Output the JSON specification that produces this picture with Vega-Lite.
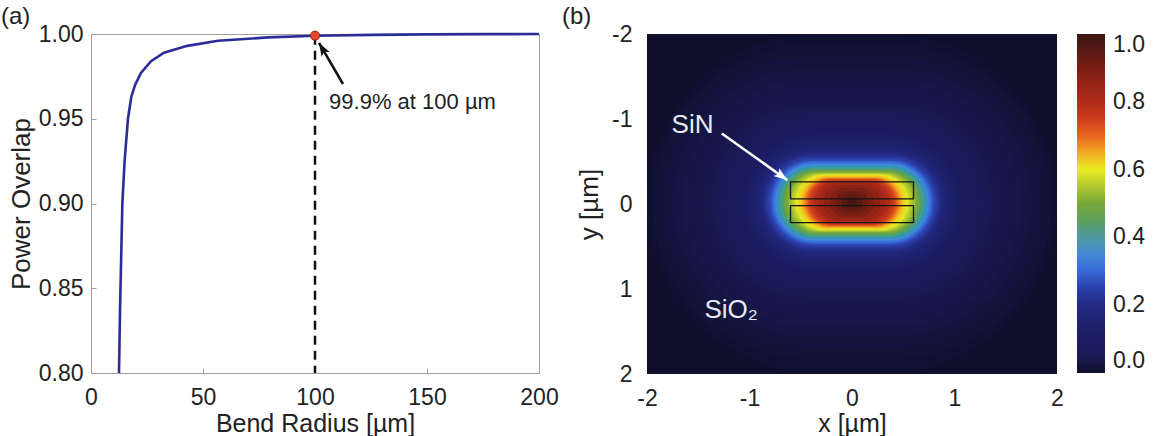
{
  "$schema": "https://vega.github.io/schema/vega-lite/v6.json",
  "background": "white",
  "padding": {"left": 0, "top": 4, "right": 0, "bottom": 0},
  "spacing": 3,
  "config": {
    "font": "Liberation Sans",
    "axis": {"labelFont": "Liberation Sans", "titleFont": "Liberation Sans", "labelColor": "#222", "titleColor": "#222", "grid": false, "titleFontWeight": "normal"},
    "title": {"font": "Liberation Sans", "fontWeight": "normal", "color": "#222", "fontSize": 24, "anchor": "start", "frame": "group"}
  },
  "datasets": {
    "overlap": [
      {"r": 12.5, "p": 0.8},
      {"r": 13.0, "p": 0.84},
      {"r": 13.5, "p": 0.87},
      {"r": 14.0, "p": 0.9},
      {"r": 15.0, "p": 0.925},
      {"r": 16.5, "p": 0.95},
      {"r": 18.0, "p": 0.963},
      {"r": 19.7, "p": 0.97},
      {"r": 22.3, "p": 0.977},
      {"r": 26.8, "p": 0.984},
      {"r": 32.6, "p": 0.989},
      {"r": 43.0, "p": 0.993},
      {"r": 56.7, "p": 0.996},
      {"r": 79.0, "p": 0.998},
      {"r": 100.0, "p": 0.999},
      {"r": 125.0, "p": 0.9995},
      {"r": 150.0, "p": 0.9998},
      {"r": 175.0, "p": 0.9999},
      {"r": 200.0, "p": 1.0}
    ],
    "marker": [{"r": 100, "p": 0.999}],
    "arrowA": [{"r": 112.5, "p": 0.9705, "r2": 101.8, "p2": 0.9947}],
    "labelA": [{"r": 106.3, "p": 0.9558, "label": "99.9% at 100 µm"}],
    "field": [
      {"v": 0.004, "x": -2.0, "x2": 2.0, "y": -2.0, "y2": 1.98},
      {"v": 0.008, "x": -1.95, "x2": 1.95, "y": -1.87, "y2": 1.83},
      {"v": 0.012, "x": -1.85, "x2": 1.85, "y": -1.72, "y2": 1.68},
      {"v": 0.016, "x": -1.75, "x2": 1.75, "y": -1.59, "y2": 1.55},
      {"v": 0.02, "x": -1.65, "x2": 1.65, "y": -1.47, "y2": 1.43},
      {"v": 0.026, "x": -1.55, "x2": 1.55, "y": -1.35, "y2": 1.31},
      {"v": 0.033, "x": -1.45, "x2": 1.45, "y": -1.24, "y2": 1.2},
      {"v": 0.04, "x": -1.37, "x2": 1.37, "y": -1.15, "y2": 1.11},
      {"v": 0.05, "x": -1.29, "x2": 1.29, "y": -1.07, "y2": 1.03},
      {"v": 0.06, "x": -1.22, "x2": 1.22, "y": -1.0, "y2": 0.96},
      {"v": 0.07, "x": -1.16, "x2": 1.16, "y": -0.94, "y2": 0.9},
      {"v": 0.085, "x": -1.1, "x2": 1.1, "y": -0.88, "y2": 0.84},
      {"v": 0.10, "x": -1.05, "x2": 1.05, "y": -0.82, "y2": 0.78},
      {"v": 0.12, "x": -1.0, "x2": 1.0, "y": -0.76, "y2": 0.72},
      {"v": 0.14, "x": -0.96, "x2": 0.96, "y": -0.71, "y2": 0.67},
      {"v": 0.165, "x": -0.92, "x2": 0.92, "y": -0.66, "y2": 0.62},
      {"v": 0.19, "x": -0.885, "x2": 0.885, "y": -0.62, "y2": 0.58},
      {"v": 0.215, "x": -0.86, "x2": 0.86, "y": -0.585, "y2": 0.545},
      {"v": 0.24, "x": -0.835, "x2": 0.835, "y": -0.555, "y2": 0.515},
      {"v": 0.26, "x": -0.815, "x2": 0.815, "y": -0.53, "y2": 0.49},
      {"v": 0.29, "x": -0.79, "x2": 0.79, "y": -0.51, "y2": 0.47},
      {"v": 0.32, "x": -0.77, "x2": 0.77, "y": -0.49, "y2": 0.45},
      {"v": 0.35, "x": -0.75, "x2": 0.75, "y": -0.47, "y2": 0.43},
      {"v": 0.38, "x": -0.73, "x2": 0.73, "y": -0.45, "y2": 0.41},
      {"v": 0.41, "x": -0.71, "x2": 0.71, "y": -0.43, "y2": 0.39},
      {"v": 0.44, "x": -0.69, "x2": 0.69, "y": -0.415, "y2": 0.375},
      {"v": 0.47, "x": -0.67, "x2": 0.67, "y": -0.4, "y2": 0.36},
      {"v": 0.50, "x": -0.645, "x2": 0.645, "y": -0.385, "y2": 0.345},
      {"v": 0.53, "x": -0.62, "x2": 0.62, "y": -0.37, "y2": 0.33},
      {"v": 0.56, "x": -0.59, "x2": 0.59, "y": -0.36, "y2": 0.32},
      {"v": 0.59, "x": -0.56, "x2": 0.56, "y": -0.35, "y2": 0.31},
      {"v": 0.62, "x": -0.52, "x2": 0.52, "y": -0.335, "y2": 0.295},
      {"v": 0.65, "x": -0.49, "x2": 0.49, "y": -0.32, "y2": 0.28},
      {"v": 0.68, "x": -0.465, "x2": 0.465, "y": -0.31, "y2": 0.27},
      {"v": 0.71, "x": -0.445, "x2": 0.445, "y": -0.3, "y2": 0.26},
      {"v": 0.74, "x": -0.425, "x2": 0.425, "y": -0.29, "y2": 0.25},
      {"v": 0.77, "x": -0.4, "x2": 0.4, "y": -0.28, "y2": 0.24},
      {"v": 0.80, "x": -0.37, "x2": 0.37, "y": -0.265, "y2": 0.225},
      {"v": 0.83, "x": -0.33, "x2": 0.33, "y": -0.245, "y2": 0.205},
      {"v": 0.86, "x": -0.28, "x2": 0.28, "y": -0.22, "y2": 0.18},
      {"v": 0.89, "x": -0.22, "x2": 0.22, "y": -0.19, "y2": 0.15},
      {"v": 0.92, "x": -0.16, "x2": 0.16, "y": -0.15, "y2": 0.11},
      {"v": 0.95, "x": -0.1, "x2": 0.1, "y": -0.11, "y2": 0.07},
      {"v": 0.98, "x": -0.05, "x2": 0.05, "y": -0.065, "y2": 0.025}
    ],
    "cladding": [{"v": 0.0, "x": -2, "x2": 2, "y": -2, "y2": 2}],
    "cores": [
      {"layer": "upper", "x": -0.6, "x2": 0.6, "y": -0.26, "y2": -0.06},
      {"layer": "lower", "x": -0.6, "x2": 0.6, "y": 0.02, "y2": 0.22}
    ],
    "arrowB": [{"x": -1.27, "y": -0.83, "x2": -0.63, "y2": -0.28}],
    "labelsB": [
      {"x": -1.76, "y": -0.83, "label": "SiN"},
      {"x": -1.44, "y": 1.34, "label": "SiO₂"}
    ]
  },
  "hconcat": [
    {
      "width": 448,
      "height": 339,
      "title": {"text": "(a)", "dx": -90, "offset": -6},
      "view": {"stroke": "#a0a0a0", "strokeWidth": 1},
      "encoding": {
        "x": {"field": "r", "type": "quantitative",
          "scale": {"domain": [0, 200], "nice": false},
          "axis": {"values": [0, 50, 100, 150, 200], "title": "Bend Radius [µm]", "labelFontSize": 23, "titleFontSize": 25, "labelFlush": false, "tickSize": -5, "tickColor": "#a0a0a0", "domainColor": "#a0a0a0", "labelPadding": 18, "titlePadding": 2}},
        "y": {"field": "p", "type": "quantitative",
          "scale": {"domain": [0.8, 1.0], "nice": false, "zero": false},
          "axis": {"values": [0.8, 0.85, 0.9, 0.95, 1.0], "format": ".2f", "title": "Power Overlap", "labelFontSize": 23, "titleFontSize": 26, "tickSize": -5, "tickColor": "#a0a0a0", "domainColor": "#a0a0a0", "labelPadding": 13, "titlePadding": 4}}
      },
      "layer": [
        {"data": {"name": "overlap"}, "mark": {"type": "line", "color": "#2c2c98", "strokeWidth": 2.6}},
        {"data": {"name": "marker"}, "mark": {"type": "rule", "color": "#111", "strokeWidth": 2.5, "strokeDash": [9, 6]}, "encoding": {"y2": {"datum": 0.8}}},
        {"data": {"name": "marker"}, "mark": {"type": "circle", "size": 85, "fill": "#e0472c", "stroke": "#9a2414", "strokeWidth": 1, "opacity": 1}},
        {"data": {"name": "arrowA"}, "mark": {"type": "rule", "color": "#111", "strokeWidth": 2.5}, "encoding": {"x2": {"field": "r2"}, "y2": {"field": "p2"}}},
        {"data": {"name": "arrowA"}, "mark": {"type": "point", "shape": "M0,0L0.75,2.1L0,1.6L-0.75,2.1Z", "filled": true, "color": "#111", "opacity": 1, "size": 160, "angle": -30},
          "encoding": {"x": {"field": "r2", "type": "quantitative"}, "y": {"field": "p2", "type": "quantitative"}}},
        {"data": {"name": "labelA"}, "mark": {"type": "text", "align": "left", "baseline": "alphabetic", "fontSize": 22, "color": "#222"}, "encoding": {"text": {"field": "label"}}}
      ]
    },
    {
      "width": 410,
      "height": 340,
      "title": {"text": "(b)", "dx": -85, "offset": -6},
      "view": {"stroke": null},
      "encoding": {
        "x": {"field": "x", "type": "quantitative",
          "scale": {"domain": [-2, 2], "nice": false},
          "axis": {"values": [-2, -1, 0, 1, 2], "labelExpr": "datum.value < 0 ? '-' + format(-datum.value, 'd') : format(datum.value, 'd')", "title": "x [µm]", "labelFontSize": 23, "titleFontSize": 25, "labelFlush": false, "ticks": false, "domain": false, "labelPadding": 13, "titlePadding": 1}},
        "y": {"field": "y", "type": "quantitative",
          "scale": {"domain": [-2, 2], "nice": false, "reverse": true},
          "axis": {"values": [-2, -1, 0, 1, 2], "labelExpr": "datum.value < 0 ? '-' + format(-datum.value, 'd') : format(datum.value, 'd')", "title": "y [µm]", "labelFontSize": 23, "titleFontSize": 26, "ticks": false, "domain": false, "labelPadding": 15, "titlePadding": 9}},
        "color": {"field": "v", "type": "quantitative",
          "scale": {
            "domain": [0, 0.02, 0.05, 0.1, 0.15, 0.2, 0.25, 0.3, 0.35, 0.4, 0.45, 0.5, 0.55, 0.6, 0.65, 0.7, 0.75, 0.8, 0.85, 0.9, 0.95, 1.0],
            "range": ["#0f0f2c", "#161648", "#1a1a58", "#1c1d64", "#1f2270", "#232a84", "#2a3ea8", "#3868d8", "#4489d6", "#4e9aa0", "#5c9e5c", "#78a83a", "#b0c82e", "#ecec24", "#f2aa22", "#e6661e", "#cc3c1c", "#b02c18", "#962416", "#7a1e14", "#5a1a14", "#3a1612"]
          },
          "legend": {"title": null, "orient": "right", "offset": 13, "direction": "vertical", "gradientLength": 339, "gradientThickness": 28, "values": [0, 0.2, 0.4, 0.6, 0.8, 1.0], "labelExpr": "format(datum.value, '.1f')", "labelFontSize": 23, "labelOffset": 8, "labelBaseline": "middle", "labelColor": "#222", "labelFont": "Liberation Sans", "padding": 0, "gradientStrokeWidth": 0, "labelOverlap": false}}
      },
      "layer": [
        {"data": {"name": "cladding"}, "mark": {"type": "rect"}, "encoding": {"x2": {"field": "x2"}, "y2": {"field": "y2"}}},
        {"data": {"name": "field"}, "mark": {"type": "rect", "cornerRadius": 999}, "encoding": {"x2": {"field": "x2"}, "y2": {"field": "y2"}}},
        {"data": {"name": "cores"}, "mark": {"type": "rect", "filled": false, "stroke": "#151515", "strokeWidth": 1.3}, "encoding": {"x2": {"field": "x2"}, "y2": {"field": "y2"}, "color": {"value": "#151515"}}},
        {"data": {"name": "arrowB"}, "mark": {"type": "rule", "strokeWidth": 2.6}, "encoding": {"x2": {"field": "x2"}, "y2": {"field": "y2"}, "color": {"value": "white"}}},
        {"data": {"name": "arrowB"}, "mark": {"type": "point", "shape": "M0,0L0.75,2.1L0,1.6L-0.75,2.1Z", "filled": true, "opacity": 1, "size": 170, "angle": 126},
          "encoding": {"x": {"field": "x2", "type": "quantitative"}, "y": {"field": "y2", "type": "quantitative"}, "color": {"value": "white"}}},
        {"data": {"name": "labelsB"}, "mark": {"type": "text", "align": "left", "baseline": "alphabetic", "fontSize": 26}, "encoding": {"text": {"field": "label"}, "color": {"value": "#e8e8f0"}}}
      ]
    }
  ]
}
